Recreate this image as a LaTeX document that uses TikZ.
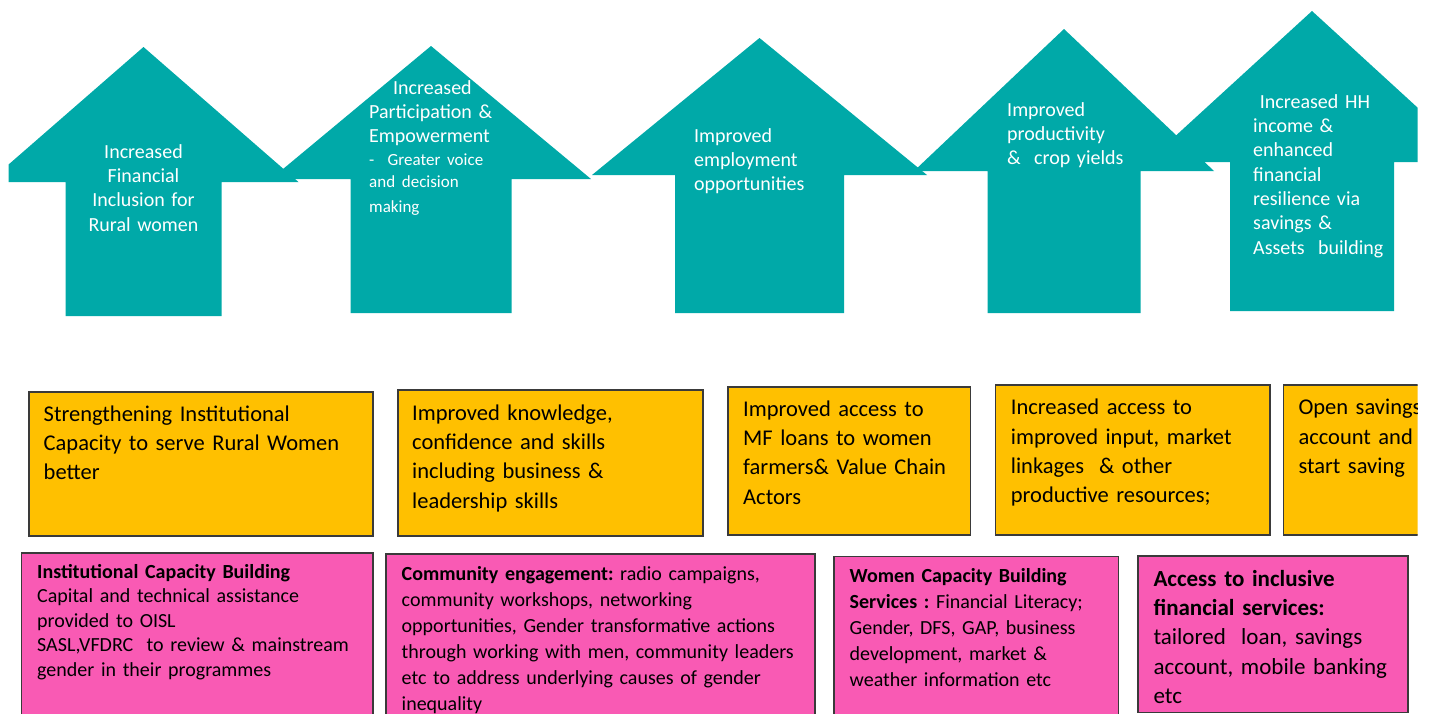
\documentclass[tikz,border=0pt]{standalone}
\usepackage{fontspec}
\setmainfont{Carlito}
\frenchspacing
\definecolor{arrowteal}{HTML}{00A9A8}
\definecolor{boxgold}{HTML}{FFC000}
\definecolor{boxpink}{HTML}{F95AB4}
\definecolor{boxline}{HTML}{3A3A3A}

\begin{document}
\begin{tikzpicture}[x = 1pt, y = -1pt]
    \tikzstyle{every node} = [inner sep = 0pt];
    \tikzstyle{gold box} = [draw = boxline, line width = 1.5pt, fill = boxgold, anchor = north west];
    \tikzstyle{pink box} = [draw = boxline, line width = 1.5pt, fill = boxpink, anchor = north west];
    \tikzstyle{arrow text} = [anchor = north west, text width = 160pt, align = left, text = white, font = {\fontsize{20}{24.3}\selectfont}, execute at begin node = \strut];
    \tikzstyle{gold text} = [anchor = north west, text width = 330pt, align = left, font = {\fontsize{22.5}{29.3}\selectfont}, execute at begin node = \strut];
    \tikzstyle{pink text} = [anchor = north west, text width = 420pt, align = left, font = {\fontsize{20}{24.5}\selectfont}, execute at begin node = \strut];
    \useasboundingbox (0,0) rectangle (1430,713);
    \begin{scope}
    \clip (8.5,0) rectangle (1417.5,713);
    % arrows: centre / tip / head base / head half width / shaft half width / bottom
    \foreach \cx/\tp/\hb/\hw/\sw/\bt in {143.5/47/182/155/78/316, 431/46/179/160/80.5/313,
        759.5/38/175/167.5/84.5/313, 1064/29/171/150/76.5/313, 1312/11/162/165/82/311}
      \fill[arrowteal] (\cx,\tp) -- (\cx+\hw,\hb) -- (\cx+\sw,\hb) -- (\cx+\sw,\bt)
        -- (\cx-\sw,\bt) -- (\cx-\sw,\hb) -- (\cx-\hw,\hb) -- cycle;
    \node[arrow text, anchor = north, text width = 140pt, align = center] (r1) at (143.5,141) {Increased\\ Financial\\ Inclusion for\\ Rural women};
    \node[arrow text] (r2) at (369,77) {\hspace*{24pt}Increased\\ Participation \&\\ Empowerment\par\vspace{1pt}
        \fontsize{17}{22}\selectfont -\ \ Greater voice\\ and decision\\ making};
    \node[arrow text] (r3) at (694,125) {Improved\\ employment\\ opportunities};
    \node[arrow text] (r4) at (1007,99) {Improved\\ productivity\\ \& \ crop yields};
    \node[arrow text] (r5) at (1253,91) {\ Increased HH\\ income \&\\ enhanced\\ financial\\ resilience via\\ savings \&\\ Assets \ building};
    % outcomes:
    \node[gold box, minimum width = 344pt, minimum height = 144pt] (o1) at (28,391) {};
    \node[gold box, minimum width = 305pt, minimum height = 146pt] (o2) at (397,389) {};
    \node[gold box, minimum width = 242.5pt, minimum height = 148pt] (o3) at (727,386) {};
    \node[gold box, minimum width = 274.5pt, minimum height = 150.3pt] (o4) at (994.5,384) {};
    \node[gold box, minimum width = 162pt, minimum height = 150.3pt] (o5) at (1282.5,384) {};
    \node[gold text] (ot1) at (43.5,400.5) {Strengthening Institutional\\ Capacity to serve Rural Women\\ better};
    \node[gold text] (ot2) at (412,399.5) {Improved knowledge,\\ confidence and skills\\ including business \&\\ leadership skills};
    \node[gold text] (ot3) at (743,395.5) {Improved access to\\ MF loans to women\\ farmers\& Value Chain\\ Actors};
    \node[gold text] (ot4) at (1010.7,394) {Increased access to\\ improved input, market\\ linkages \ \& other\\ productive resources;};
    \node[gold text] (ot5) at (1298.3,394) {Open savings\\ account and\\ start saving};
    % activities:
    \node[pink box, minimum width = 351.5pt, minimum height = 178pt] (a1) at (20.5,552) {};
    \node[pink box, minimum width = 429pt, minimum height = 177pt] (a2) at (385,553.3) {};
    \node[pink box, minimum width = 284.5pt, minimum height = 175pt] (a3) at (833,555.5) {};
    \node[pink box, minimum width = 270pt, minimum height = 156.4pt] (a4) at (1137.3,555.3) {};
    \node[pink text] (at1) at (37,561) {\textbf{Institutional Capacity Building}\\ Capital and technical assistance\\ provided to OISL\\ SASL,VFDRC \ to review \& mainstream\\ gender in their programmes};
    \node[pink text, font = {\fontsize{20}{26}\selectfont}] (at2) at (401.5,562) {\textbf{Community engagement:} radio campaigns,\\ community workshops, networking\\ opportunities, Gender transformative actions\\ through working with men, community leaders\\ etc to address underlying causes of gender\\ inequality};
    \node[pink text, font = {\fontsize{20}{26}\selectfont}] (at3) at (849.5,564.5) {\textbf{Women Capacity Building}\\ \textbf{Services :} Financial Literacy;\\ Gender, DFS, GAP, business\\ development, market \&\\ weather information etc};
    \node[pink text, font = {\fontsize{23}{29.3}\selectfont}] (at4) at (1153.3,565.4) {\textbf{Access to inclusive}\\ \textbf{financial services:}\\ tailored \ loan, savings\\ account, mobile banking\\ etc};
    \end{scope}
\end{tikzpicture}
\end{document}
